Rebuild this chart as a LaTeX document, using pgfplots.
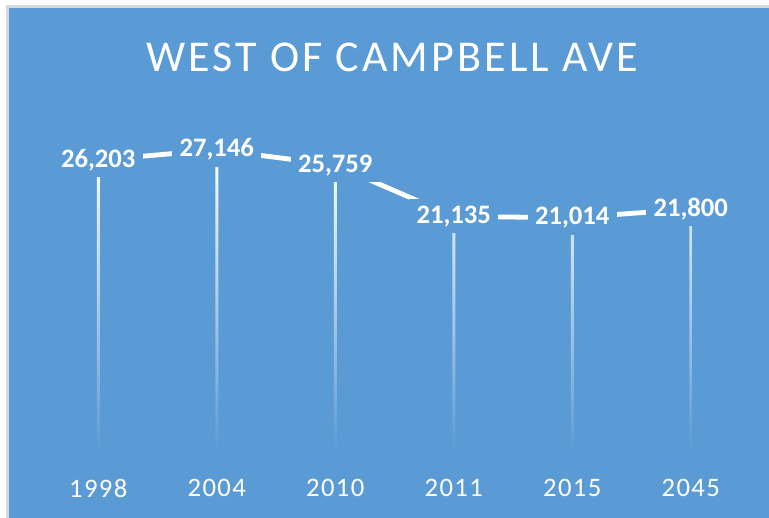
\documentclass[border=0pt]{standalone}
\usepackage{pgfplots}
\pgfplotsset{compat=1.18}
\usepackage{fontspec}
\setmainfont{Carlito}
\newfontfamily\titlefont[LetterSpace=7]{Carlito}
\newfontfamily\tickfont[LetterSpace=5]{Carlito}
\definecolor{bgblue}{HTML}{5B9BD5}
\definecolor{bordergray}{HTML}{D9D9D9}
\begin{document}
\begin{tikzpicture}[x=0.75pt,y=0.75pt]
\fill[white] (0,0) rectangle (769,518);
\fill[bordergray] (6,0) rectangle (769,513);
\fill[bgblue] (9,0) rectangle (769,510);
\node[text=white, font=\titlefont\fontsize{33}{36}\selectfont] at (392.5,461) {WEST OF CAMPBELL AVE};
\begin{axis}[at={(29.25pt,50.25pt)}, anchor=south west, scale only axis,
  width=533.25pt, height=249.75pt,
  xmin=-0.5, xmax=5.5, ymin=0, ymax=30000,
  clip=false,
  axis line style={draw=none},
  major tick length=0pt,
  ytick=\empty,
  xtick={0,1,2,3,4,5},
  xticklabels={1998,2004,2010,2011,2015,2045},
  xticklabel style={font=\tickfont\fontsize{20}{24}\selectfont, text=white, anchor=center, yshift=-27.75pt},
]
\addplot[ybar, bar width=2.25pt, draw=none, top color=white, bottom color=bgblue] coordinates {
(0,26203) (1,27146) (2,25759) (3,21135) (4,21014) (5,21800)};
\addplot[white, line width=3.6pt, mark=none,
  nodes near coords={\pgfmathprintnumber[assume math mode=true, fixed, precision=0, 1000 sep={,}]{\pgfplotspointmeta}},
  every node near coord/.append style={anchor=center, fill=bgblue, text=white, inner xsep=5.5pt, inner ysep=4.8pt, font=\bfseries\fontsize{20}{24}\selectfont}]
coordinates {
(0,26203) (1,27146) (2,25759) (3,21135) (4,21014) (5,21800)};
\end{axis}
\end{tikzpicture}
\end{document}
